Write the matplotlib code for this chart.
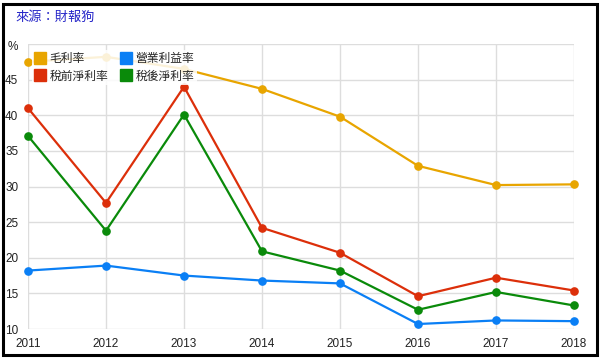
import matplotlib
matplotlib.use("Agg")
import matplotlib.pyplot as plt
from matplotlib.lines import Line2D
from matplotlib.patches import Rectangle

years = ["2011", "2012", "2013", "2014", "2015", "2016", "2017", "2018"]
gross = [47.5, 48.2, 46.5, 43.7, 39.8, 32.9, 30.2, 30.3]
operating = [18.2, 18.9, 17.5, 16.8, 16.4, 10.7, 11.2, 11.1]
pretax = [41.0, 27.7, 44.0, 24.2, 20.7, 14.6, 17.2, 15.4]
aftertax = [37.1, 23.8, 40.1, 20.9, 18.2, 12.7, 15.2, 13.3]
series_names = ["毛利率", "營業利益率", "稅前淨利率", "稅後淨利率"]
yticks = [10, 15, 20, 25, 30, 35, 40, 45]

colors = ["#E8A500", "#0A7FF5", "#DC2F0A", "#0A8A0A"]
cjk = ["Noto Sans CJK TC", "DejaVu Sans"]
num_font = ["Liberation Sans", "DejaVu Sans"]

fig = plt.figure(figsize=(6.0, 3.58), dpi=100)
ax = fig.add_axes([28/600, 1-329/358, (574-28)/600, (329-44)/358])

x = list(range(len(years)))
for vals, c in zip([gross, operating, pretax, aftertax], colors):
    ax.plot(x, vals, color=c, lw=1.6, marker="o", ms=5.2, zorder=3, clip_on=False)

ax.set_xlim(0, len(years)-1)
ax.set_ylim(10, 50)
ax.set_xticks(x)
ax.set_xticklabels(years, fontfamily=num_font, fontsize=8.5, color="#222222")
ax.set_yticks(yticks + [50])
ax.set_yticklabels([str(v) for v in yticks] + [""], fontfamily=num_font, fontsize=8.5, color="#222222")
ax.tick_params(axis="both", length=0)
ax.tick_params(axis="x", pad=6.5)
ax.tick_params(axis="y", pad=7)
ax.grid(True, color="#dddddd", lw=1.0, zorder=0)
for s in ax.spines.values():
    s.set_visible(False)
ax.set_axisbelow(True)

fig.text(8/600, 1-47/358, "%", fontsize=8.5, fontfamily=num_font, color="#222222", va="center", ha="left")

handles = [Line2D([], [], marker="s", ls="none", ms=8, mfc=c, mec=c) for c in colors]
order = [0, 2, 1, 3]
leg = ax.legend([handles[i] for i in order], [series_names[i] for i in order], ncol=2,
                loc="upper left", bbox_to_anchor=(32/600, 1-50/358), bbox_transform=fig.transFigure,
                prop={"family": cjk, "size": 8.5}, frameon=True, framealpha=0.85,
                facecolor="white", edgecolor="none", fancybox=False,
                handlelength=0.9, handletextpad=0.4, columnspacing=1.0, labelspacing=0.35,
                borderpad=0.2, borderaxespad=0)
for t in leg.get_texts():
    t.set_color("#222222")
leg.set_zorder(5)

fig.text(15/600, 1-17/358, "來源：財報狗", fontsize=9.5, fontfamily=cjk, color="#2424C8", va="center", ha="left")

fig.patches.append(Rectangle((2.5/600, 3.5/358), (597-2.5)/600, (354-3.5)/358, transform=fig.transFigure,
                             fill=False, edgecolor="black", lw=2.2, zorder=10))

fig.savefig("out.png", dpi=100)
